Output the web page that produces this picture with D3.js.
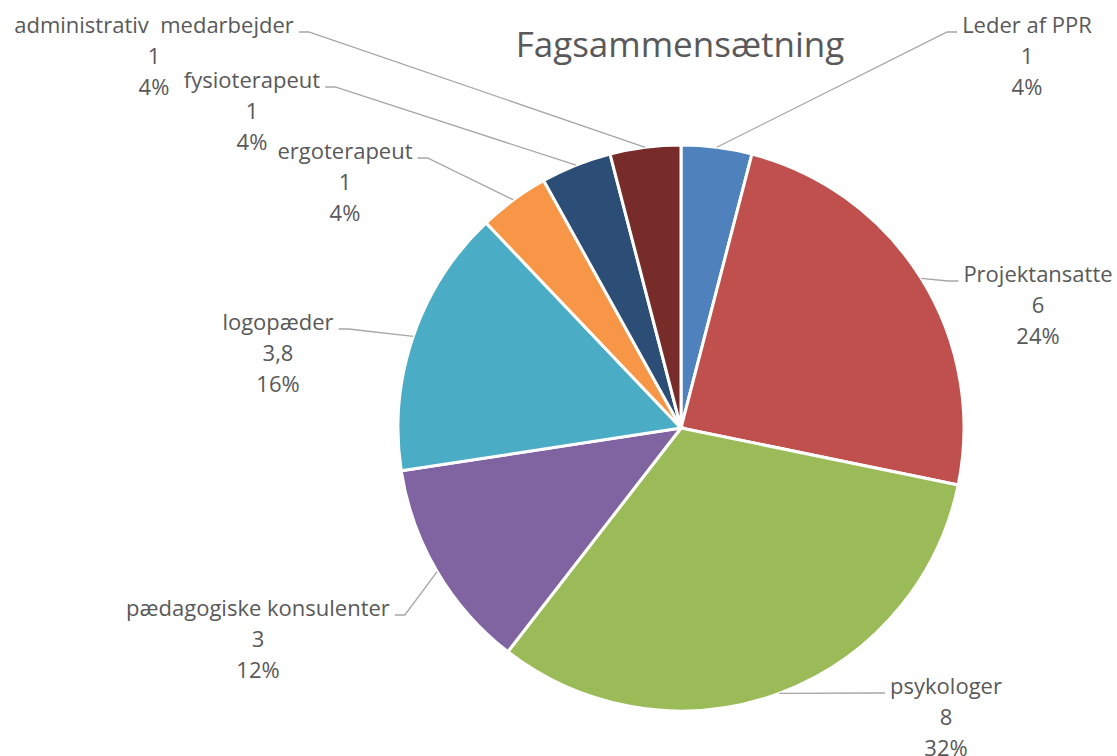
<!DOCTYPE html>
<html>
<head>
<meta charset="utf-8">
<script src="https://cdn.jsdelivr.net/npm/d3@7"></script>
<style>
    body { margin: 0; background: #fff; }
    svg { display: block; font-family: 'Open Sans', 'Noto Sans', sans-serif; }
    text { white-space: pre; }
</style>
</head>
<body>
<svg id="chart" width="1117" height="756"></svg>
<script>
const categories = ['Leder af PPR', 'Projektansatte', 'psykologer', 'pædagogiske konsulenter',
    'logopæder', 'ergoterapeut', 'fysioterapeut', 'administrativ  medarbejder'];
const values = [1, 6, 8, 3, 3.8, 1, 1, 1];
const valueLabels = ['1', '6', '8', '3', '3,8', '1', '1', '1'];
const percentLabels = ['4%', '24%', '32%', '12%', '16%', '4%', '4%', '4%'];
const sliceColors = ['#4F81BD', '#C0504D', '#9BBB59', '#8064A2', '#4BACC6', '#F79646', '#2C4D75', '#772C2A'];

// where Excel put each label block (center x, first line y) and which side the leader leaves from
const labelLayout = [
    { x: 1027, y: 25, side: 'left' },
    { x: 1038, y: 274, side: 'left' },
    { x: 946, y: 686, side: 'left' },
    { x: 258, y: 608, side: 'right' },
    { x: 278, y: 322, side: 'right' },
    { x: 345, y: 151, side: 'right' },
    { x: 252, y: 80, side: 'right' },
    { x: 154, y: 25, side: 'right' }
];

const CX = 681, CY = 428, R = 283;
const LINE_H = 31;
const textColor = '#595959';

const svg = d3.select('#chart');

svg.append('text')
    .attr('x', 680)
    .attr('y', 57)
    .attr('text-anchor', 'middle')
    .attr('font-size', 35)
    .attr('fill', textColor)
    .text('Fagsammensætning');

const pie = d3.pie().sort(null).value(d => d)(values);
const arc = d3.arc().innerRadius(0).outerRadius(R);

const g = svg.append('g').attr('transform', `translate(${CX},${CY})`);
g.selectAll('path')
    .data(pie)
    .join('path')
    .attr('d', arc)
    .attr('fill', (d, i) => sliceColors[i])
    .attr('stroke', '#fff')
    .attr('stroke-width', 3);

// labels + leader lines
const labels = svg.append('g');
pie.forEach((d, i) => {
    let lay = labelLayout[i];
    let mid = (d.startAngle + d.endAngle) / 2;
    let px = CX + R * Math.sin(mid), py = CY - R * Math.cos(mid);

    let t = labels.append('text')
        .attr('text-anchor', 'middle')
        .attr('font-size', 22)
        .attr('fill', textColor);
    [categories[i], valueLabels[i], percentLabels[i]].forEach((s, k) => {
        t.append('tspan')
            .attr('x', lay.x)
            .attr('y', lay.y + k * LINE_H)
            .attr('dy', '0.35em')
            .text(s);
    });

    let w = t.select('tspan').node().getComputedTextLength();
    let ly = lay.y + 7;
    let ex = lay.side === 'left' ? lay.x - w / 2 - 5 : lay.x + w / 2 + 5;
    let kx = lay.side === 'left' ? ex - 10 : ex + 10;
    labels.append('polyline')
        .attr('points', [[ex, ly], [kx, ly], [px, py]].map(p => p.join(',')).join(' '))
        .attr('fill', 'none')
        .attr('stroke', '#A6A6A6')
        .attr('stroke-width', 1.3);
});
</script>
</body>
</html>
